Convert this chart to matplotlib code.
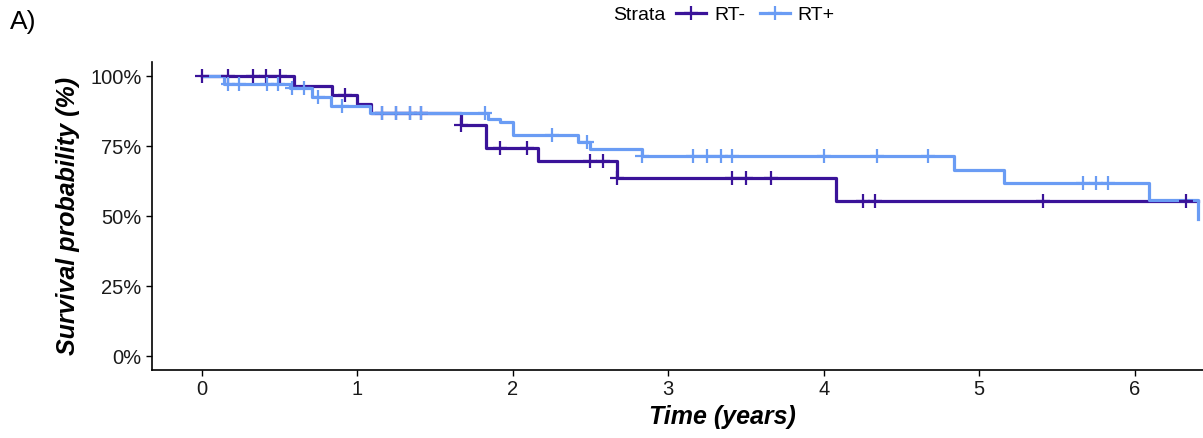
import matplotlib

matplotlib.use("Agg")
import matplotlib.pyplot as plt
from matplotlib.lines import Line2D
from matplotlib.ticker import PercentFormatter

plt.rcParams["font.family"] = ["Liberation Sans", "DejaVu Sans"]

COR_NEG = "#3A1399"
COR_POS = "#6A9CF4"

# Curvas de Kaplan-Meier (tempo em anos, sobrevida em %)
rt_neg_tempo = [0.0, 0.59, 0.84, 1.00, 1.09, 1.67, 1.83, 2.16, 2.67, 4.08, 6.41]
rt_neg_surv = [100.0, 96.5, 93.3, 90.0, 86.8, 82.6, 74.4, 69.8, 63.7, 55.2, 55.2]
rt_neg_censura = [0.0, 0.17, 0.33, 0.41, 0.50, 0.92, 1.16, 1.25, 1.34, 1.41,
                  1.67, 1.92, 2.09, 2.50, 2.58, 2.67, 3.41, 3.50, 3.66, 4.25,
                  4.33, 5.41, 6.33]

rt_pos_tempo = [0.0, 0.14, 0.57, 0.71, 0.83, 1.08, 1.84, 1.92, 2.00, 2.42,
                2.50, 2.83, 4.84, 5.16, 6.09, 6.41]
rt_pos_surv = [100.0, 97.3, 95.7, 92.4, 89.3, 86.9, 84.6, 83.4, 78.8, 76.5,
               73.8, 71.3, 66.3, 61.9, 55.6, 49.1]
rt_pos_censura = [0.17, 0.24, 0.42, 0.49, 0.58, 0.66, 0.75, 0.90, 1.16, 1.25,
                  1.34, 1.41, 1.82, 2.25, 2.48, 2.83, 3.16, 3.25, 3.34, 3.41,
                  4.00, 4.34, 4.67, 5.67, 5.75, 5.83]


def nivel_em(tempos, surv, t):
    valor = surv[0]
    for ti, si in zip(tempos, surv):
        if ti <= t:
            valor = si
    return valor


fig = plt.figure(figsize=(12.03, 4.38), dpi=100)
eixo = fig.add_axes([152 / 1203, 68 / 438, 1051 / 1203, 308 / 438])

curvas = [
    ("RT-", rt_neg_tempo, rt_neg_surv, rt_neg_censura, COR_NEG),
    ("RT+", rt_pos_tempo, rt_pos_surv, rt_pos_censura, COR_POS),
]
for nome, tempos, surv, censura, cor in curvas:
    eixo.step(tempos, surv, where="post", color=cor, lw=2.3, zorder=2)
    ys = [nivel_em(tempos[:-1], surv[:-1], t) for t in censura]
    eixo.plot(censura, ys, ls="none", marker="+", ms=10, mew=1.6, color=cor, zorder=3)

eixo.set_xlim(-0.32, 6.439)
eixo.set_ylim(-5, 105)
eixo.set_xticks(range(0, 7))
eixo.set_yticks([0, 25, 50, 75, 100])
eixo.yaxis.set_major_formatter(PercentFormatter(100, decimals=0))
eixo.tick_params(labelsize=14.5, length=4.5, width=1.0, pad=3, colors="black", labelcolor="#1a1a1a")
for lado in ("top", "right"):
    eixo.spines[lado].set_visible(False)
for lado in ("left", "bottom"):
    eixo.spines[lado].set_linewidth(1.2)

eixo.set_xlabel("Time (years)", fontsize=18, fontweight="bold", fontstyle="italic")
eixo.set_ylabel("Survival probability (%)", fontsize=18, fontweight="bold", fontstyle="italic")
eixo.xaxis.set_label_coords(570 / 1051, -35 / 308)
eixo.yaxis.set_label_coords(-72 / 1051, 0.5)

fig.text(10 / 1203, 1 - 22 / 438, "A)", fontsize=19, ha="left", va="center")

fig.text(613 / 1203, 1 - 15 / 438, "Strata", fontsize=14, ha="left", va="center")
alcas = [
    Line2D([], [], color=COR_NEG, lw=2.3, marker="+", ms=10, mew=1.6),
    Line2D([], [], color=COR_POS, lw=2.3, marker="+", ms=10, mew=1.6),
]
fig.legend(
    alcas,
    ["RT-", "RT+"],
    loc="center left",
    bbox_to_anchor=(676 / 1203, 1 - 15 / 438),
    ncol=2,
    frameon=False,
    fontsize=14,
    borderpad=0,
    borderaxespad=0,
    handlelength=1.55,
    handletextpad=0.4,
    columnspacing=0.75,
    numpoints=1,
)

fig.savefig("out.png", dpi=100)
plt.close(fig)
